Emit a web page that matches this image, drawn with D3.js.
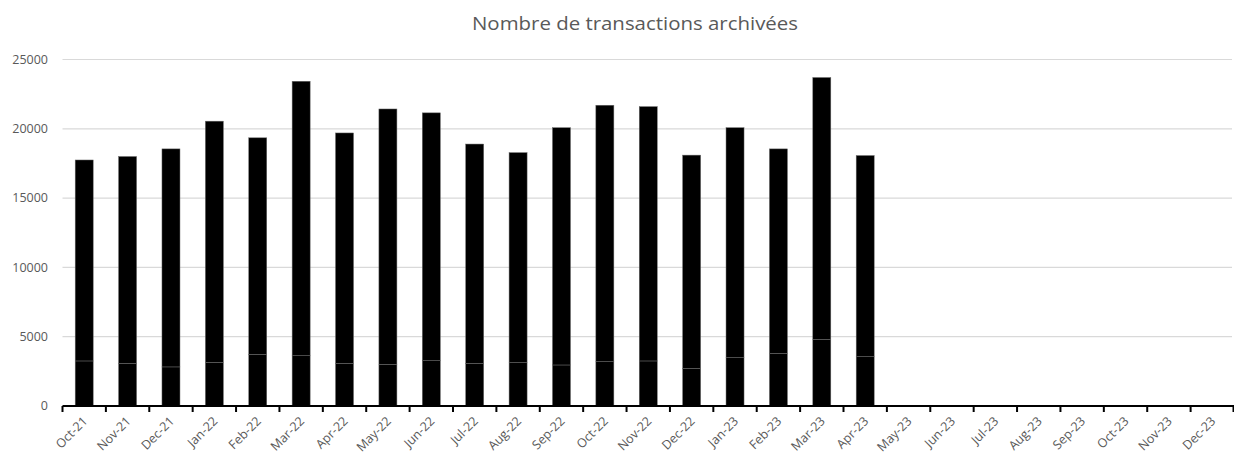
<!DOCTYPE html>
<html>
<head>
<meta charset="utf-8">
<script src="https://cdn.jsdelivr.net/npm/d3@7"></script>
<style>
  html, body { margin: 0; padding: 0; background: #fff; }
  svg { display: block; }
  text { font-family: "Open Sans", Lato, sans-serif; }
</style>
</head>
<body>
<svg id="chart" width="1234" height="474"></svg>
<script>
const title = "Nombre de transactions archivées";
const months = ["Oct-21","Nov-21","Dec-21","Jan-22","Feb-22","Mar-22","Apr-22","May-22","Jun-22","Jul-22","Aug-22","Sep-22","Oct-22","Nov-22","Dec-22","Jan-23","Feb-23","Mar-23","Apr-23","May-23","Jun-23","Jul-23","Aug-23","Sep-23","Oct-23","Nov-23","Dec-23"];
const baseSeries = [3250,3080,2820,3150,3730,3630,3080,3010,3270,3080,3130,2960,3200,3250,2720,3490,3800,4810,3560,null,null,null,null,null,null,null,null];
const totalSeries = [17750,18000,18550,20550,19350,23430,19700,21430,21150,18900,18280,20080,21700,21600,18100,20080,18550,23700,18070,null,null,null,null,null,null,null,null];
const yTicks = [0,5000,10000,15000,20000,25000];

const svg = d3.select("#chart");
const mLeft = 62.5, mRight = 1234, mTop = 59.5, mBottom = 406;

const x = d3.scaleBand().domain(months).range([mLeft, mRight]).paddingInner(0.585).paddingOuter(0.2925);
const y = d3.scaleLinear().domain([0, 25000]).range([mBottom, mTop]);
const step = x.step();

// title
svg.append("text").attr("x", 635).attr("y", 30).attr("text-anchor", "middle")
  .attr("font-size", 18.5).attr("fill", "#595959")
  .attr("textLength", 326).attr("lengthAdjust", "spacingAndGlyphs").text(title);

// gridlines
svg.append("g").selectAll("line").data(yTicks.filter(d => d > 0)).join("line")
  .attr("x1", mLeft).attr("x2", 1232).attr("y1", d => y(d)).attr("y2", d => y(d))
  .attr("stroke", "#d9d9d9").attr("stroke-width", 1.2);

// y labels
svg.append("g").selectAll("text").data(yTicks).join("text")
  .attr("x", 48).attr("y", d => y(d)).attr("dy", "0.35em").attr("text-anchor", "end")
  .attr("font-size", 12.5).attr("fill", "#595959").text(d => d);

// stacked bars
const rows = months.map((m, i) => ({ m, base: baseSeries[i], upper: totalSeries[i] == null ? null : totalSeries[i] - baseSeries[i] }))
  .filter(r => r.base != null);
const stacked = d3.stack().keys(["base", "upper"])(rows);
svg.append("g").selectAll("g").data(stacked).join("g")
  .selectAll("rect").data(d => d).join("rect")
  .attr("x", d => x(d.data.m)).attr("width", x.bandwidth())
  .attr("y", d => y(d[1])).attr("height", d => y(d[0]) - y(d[1]))
  .attr("fill", "#000").attr("stroke", "#6a6a6a").attr("stroke-width", 0.5);

// x axis line
svg.append("line").attr("x1", mLeft).attr("x2", mRight).attr("y1", mBottom).attr("y2", mBottom)
  .attr("stroke", "#000").attr("stroke-width", 2);

// ticks between categories
const tickPos = months.map(m => x(m) - step * 0.2925).concat([mRight - 0.5]);
svg.append("g").selectAll("line").data(tickPos).join("line")
  .attr("x1", d => d).attr("x2", d => d).attr("y1", mBottom).attr("y2", mBottom + 6)
  .attr("stroke", "#000").attr("stroke-width", 2);

// x labels
svg.append("g").selectAll("text").data(months).join("text")
  .attr("transform", d => `translate(${x(d) + x.bandwidth() / 2 + 4},${mBottom + 16}) rotate(-45)`)
  .attr("text-anchor", "end").attr("font-size", 12.5).attr("fill", "#595959").text(d => d);
</script>
</body>
</html>
